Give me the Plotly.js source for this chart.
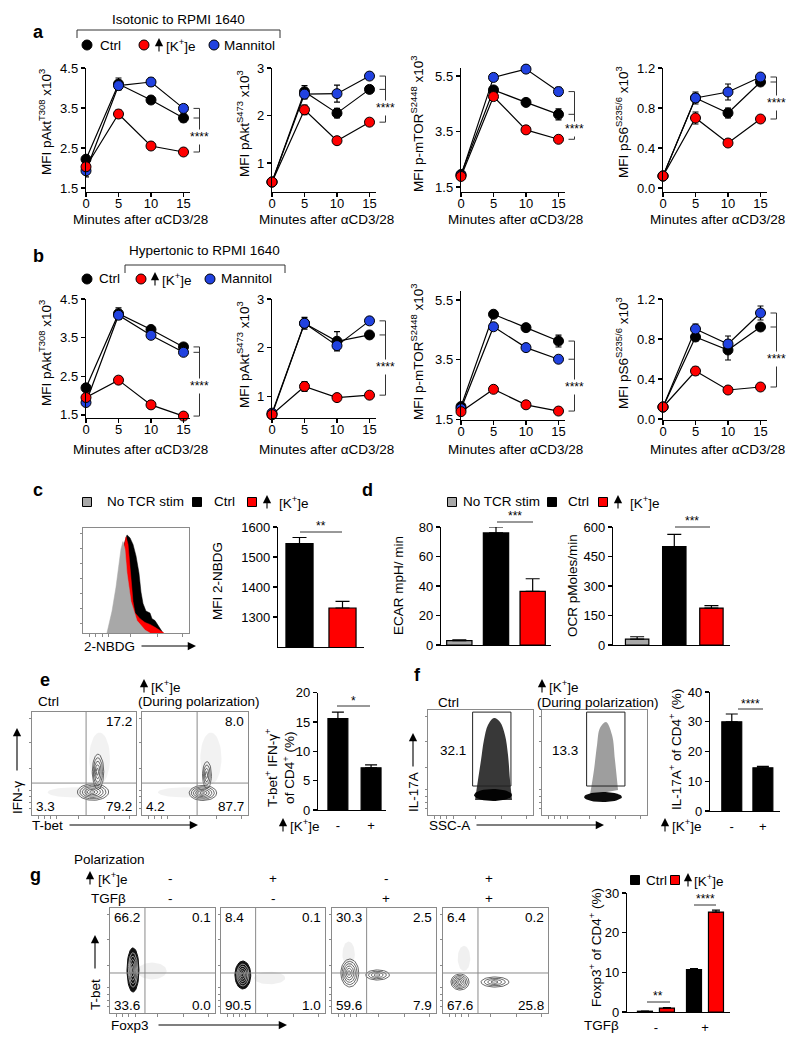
<!DOCTYPE html>
<html><head><meta charset="utf-8">
<script src="https://cdn.plot.ly/plotly-3.0.1.min.js"></script>
<style>html,body{margin:0;padding:0;background:#fff}#chart{width:800px;height:1048px}</style>
</head><body><div id="chart"></div>
<script>
// ================= DATA =================
const minutes = [0, 5, 10, 15];

// a – isotonic to RPMI 1640
const aT308Ctrl = [2.22, 4.10, 3.70, 3.25], aT308CtrlErr = [0.10, 0.15, 0.05, 0.10];
const aT308K    = [2.03, 3.35, 2.55, 2.40], aT308KErr    = [0.05, 0.10, 0.05, 0.05];
const aT308Man  = [1.93, 4.06, 4.15, 3.49], aT308ManErr  = [0.15, 0.10, 0.10, 0.05];
const aS473Ctrl = [0.60, 2.50, 2.05, 2.55], aS473CtrlErr = [0.03, 0.13, 0.10, 0.04];
const aS473K    = [0.60, 2.12, 1.47, 1.86], aS473KErr    = [0.02, 0.10, 0.03, 0.03];
const aS473Man  = [0.60, 2.45, 2.46, 2.83], aS473ManErr  = [0.02, 0.10, 0.18, 0.04];
const aMtorCtrl = [1.95, 5.00, 4.55, 4.12], aMtorCtrlErr = [0.05, 0.06, 0.05, 0.20];
const aMtorK    = [1.88, 4.76, 3.56, 3.22], aMtorKErr    = [0.05, 0.06, 0.05, 0.10];
const aMtorMan  = [1.92, 5.45, 5.75, 4.94], aMtorManErr  = [0.05, 0.12, 0.05, 0.15];
const aS6Ctrl   = [0.12, 0.90, 0.75, 1.06], aS6CtrlErr   = [0.01, 0.06, 0.05, 0.03];
const aS6K      = [0.12, 0.70, 0.45, 0.69], aS6KErr      = [0.01, 0.06, 0.02, 0.02];
const aS6Man    = [0.12, 0.90, 0.96, 1.11], aS6ManErr    = [0.01, 0.04, 0.08, 0.02];

// b – hypertonic to RPMI 1640
const bT308Ctrl = [2.20, 4.12, 3.71, 3.26], bT308CtrlErr = [0.10, 0.15, 0.05, 0.07];
const bT308K    = [1.95, 2.40, 1.76, 1.47], bT308KErr    = [0.05, 0.04, 0.03, 0.03];
const bT308Man  = [1.82, 4.08, 3.56, 3.12], bT308ManErr  = [0.08, 0.10, 0.05, 0.05];
const bS473Ctrl = [0.62, 2.50, 2.13, 2.26], bS473CtrlErr = [0.05, 0.12, 0.20, 0.04];
const bS473K    = [0.62, 1.20, 0.97, 1.02], bS473KErr    = [0.02, 0.10, 0.03, 0.03];
const bS473Man  = [0.65, 2.50, 2.04, 2.55], bS473ManErr  = [0.03, 0.08, 0.08, 0.03];
const bMtorCtrl = [1.92, 5.02, 4.57, 4.12], bMtorCtrlErr = [0.05, 0.05, 0.05, 0.20];
const bMtorK    = [1.75, 2.50, 1.98, 1.77], bMtorKErr    = [0.03, 0.05, 0.03, 0.03];
const bMtorMan  = [1.85, 4.60, 3.90, 3.51], bMtorManErr  = [0.03, 0.05, 0.05, 0.05];
const bS6Ctrl   = [0.12, 0.82, 0.69, 0.92], bS6CtrlErr   = [0.01, 0.04, 0.10, 0.02];
const bS6K      = [0.12, 0.48, 0.29, 0.32], bS6KErr      = [0.01, 0.04, 0.02, 0.02];
const bS6Man    = [0.12, 0.90, 0.75, 1.06], bS6ManErr    = [0.01, 0.05, 0.08, 0.07];

// c – 2-NBDG histogram (fluorescence, % of max) and MFI bars
const histNoStimX = [22.6, 27.4, 31.1, 34.0, 35.8, 37.7, 39.6, 41.5, 45.3, 50.9, 58.5, 63.2];
const histNoStimY = [0, 21.9, 45.7, 69.5, 83.8, 91.4, 83.8, 60, 31.4, 12.4, 2.9, 0];
const histKX = [25.5, 31.1, 34.9, 38.7, 40.6, 42.5, 44.3, 46.2, 47.2, 49.1, 53.8, 58.5, 63.2, 67.9, 72.6, 76.4];
const histKY = [0, 31.4, 64.8, 88.6, 96.2, 88.6, 69.5, 45.7, 31.4, 20, 14.3, 10.5, 8.6, 5.7, 2.9, 0];
const histCtrlX = [25.5, 31.1, 34.9, 38.7, 41.5, 44.3, 47.2, 50.0, 52.8, 54.7, 56.6, 59.4, 63.2, 65.1, 67.9, 70.8, 73.6, 75.5];
const histCtrlY = [0, 31.4, 64.8, 88.6, 98.1, 95.2, 88.6, 77.1, 60, 41, 29.5, 21.9, 20, 14.3, 12.4, 7.6, 2.9, 0];
const cCats = ['Ctrl', '[K+]e'];
const cVals = [1545, 1330], cErr = [20, 22];

// d – ECAR / OCR
const dCats = ['No TCR stim', 'Ctrl', '[K+]e'];
const ecarVals = [3, 76, 36.4], ecarErr = [0.5, 4, 8.5];
const ocrVals = [30, 500, 188], ocrErr = [12, 62, 12];

// e – Th1 polarization
const eCtrlPct = [17.2, 3.3, 79.2];   // upper-right, lower-left, lower-right
const eKPct    = [8.0, 4.2, 87.7];
const eBarCats = ['-', '+'];
const eBarVals = [15.6, 7.2], eBarErr = [1.1, 0.5];

// f – Th17 polarization
const fGatePct = [32.1, 13.3];
const fBarCats = ['-', '+'];
const fBarVals = [30.0, 14.5], fBarErr = [2.6, 0.5];

// g – Treg polarization
const gKLabels   = ['-', '+', '-', '+'];
const gTgfLabels = ['-', '-', '+', '+'];
const gUL = [66.2, 8.4, 30.3, 6.4], gUR = [0.1, 0.1, 2.5, 0.2];
const gLL = [33.6, 90.5, 59.6, 67.6], gLR = [0.0, 1.0, 7.9, 25.8];
const gBarCats = ['-', '+'];
const gCtrlVals = [0.2, 10.7], gCtrlErr = [0.05, 0.25];
const gKVals = [1.0, 25.2], gKErr = [0.1, 0.5];

// ================= HELPERS =================
const W = 800, H = 1048;
const F = 'Liberation Sans, Arial, Helvetica, sans-serif';
const px = x => x / W, py = y => 1 - y / H;
const RED = '#ff0000', BLUE = '#2142e0', GRAY = '#a8a8a8';
const data = [];
const layout = {
  width: W, height: H, margin: {l: 0, r: 0, t: 0, b: 0},
  paper_bgcolor: '#fff', plot_bgcolor: 'rgba(0,0,0,0)', showlegend: false,
  font: {family: F, size: 13, color: '#000'}, annotations: [], shapes: [], barmode: 'overlay'
};
let nAx = 0;
function axes(xl, xr, yt, yb, xo, yo) {
  nAx++;
  const s = nAx === 1 ? '' : String(nAx);
  const base = {showgrid: false, zeroline: false, showline: true, linecolor: '#000', linewidth: 1.2,
    ticks: 'outside', ticklen: 4, tickwidth: 1.2, tickcolor: '#000',
    tickfont: {family: F, size: 13, color: '#000'}, fixedrange: true};
  layout['xaxis' + s] = Object.assign({}, base, {domain: [xl / W, xr / W], anchor: 'y' + s}, xo);
  layout['yaxis' + s] = Object.assign({}, base, {domain: [1 - yb / H, 1 - yt / H], anchor: 'x' + s}, yo);
  return {x: 'x' + s, y: 'y' + s, xl, xr, yt, yb};
}
function T(x, y, t, o = {}) {
  layout.annotations.push({xref: 'paper', yref: 'paper', x: px(x), y: py(y), text: t, showarrow: false,
    xanchor: o.xa || 'center', yanchor: o.ya || 'middle', textangle: o.ang || 0,
    font: {family: F, size: o.size || 13.5, color: '#000'}, bgcolor: o.bg || 'rgba(0,0,0,0)', borderpad: 0});
}
function AR(x0, y0, x1, y1, w = 1.2, hs = 1.4) {
  layout.annotations.push({xref: 'paper', yref: 'paper', x: px(x1), y: py(y1), ax: x0 - x1, ay: y0 - y1,
    axref: 'pixel', ayref: 'pixel', text: '', showarrow: true, arrowhead: 2, arrowsize: hs,
    arrowwidth: w, arrowcolor: '#000', standoff: 0});
}
function upArrow(x, y) { AR(x, y + 8, x, y - 7, 1.1, 1.5); }
function L(x0, y0, x1, y1, w = 1, c = '#000') {
  layout.shapes.push({type: 'line', xref: 'paper', yref: 'paper', x0: px(x0), y0: py(y0), x1: px(x1), y1: py(y1), line: {color: c, width: w}});
}
function circ(cx, cy, r, fill) {
  layout.shapes.push({type: 'circle', xref: 'paper', yref: 'paper', x0: px(cx - r), x1: px(cx + r), y0: py(cy + r), y1: py(cy - r), fillcolor: fill, line: {color: '#000', width: 1}});
}
function sq(cx, cy, r, fill) {
  layout.shapes.push({type: 'rect', xref: 'paper', yref: 'paper', x0: px(cx - r), x1: px(cx + r), y0: py(cy + r), y1: py(cy - r), fillcolor: fill, line: {color: '#000', width: 1}});
}
const KE = '[K<sup>+</sup>]e';

// ================= LINE PLOTS (a, b) =================
const lineSpecs = [
  {xl: 86,  yt: 68, yb: 192, yr: [1.4, 4.5],   tv: [1.5, 2.5, 3.5, 4.5], tt: null, title: 'MFI pAkt<sup>T308</sup> x10<sup>3</sup>', tx: 45, ty: 122,
   s: [[aT308Ctrl, aT308CtrlErr], [aT308K, aT308KErr], [aT308Man, aT308ManErr]], xt: 219},
  {xl: 272, yt: 68, yb: 192, yr: [0.39, 3.0],  tv: [1, 2, 3], tt: null, title: 'MFI pAkt<sup>S473</sup> x10<sup>3</sup>', tx: 243, ty: 124,
   s: [[aS473Ctrl, aS473CtrlErr], [aS473K, aS473KErr], [aS473Man, aS473ManErr]], xt: 219},
  {xl: 461, yt: 68, yb: 192, yr: [1.32, 5.79], tv: [1.5, 3.5, 5.5], tt: null, title: 'MFI p-mTOR<sup>S2448</sup> x10<sup>3</sup>', tx: 417, ty: 124,
   s: [[aMtorCtrl, aMtorCtrlErr], [aMtorK, aMtorKErr], [aMtorMan, aMtorManErr]], xt: 219},
  {xl: 663, yt: 68, yb: 192, yr: [-0.04, 1.2], tv: [0, 0.4, 0.8, 1.2], tt: ['0.0', '0.4', '0.8', '1.2'], title: 'MFI pS6<sup>S235/6</sup> x10<sup>3</sup>', tx: 622, ty: 122,
   s: [[aS6Ctrl, aS6CtrlErr], [aS6K, aS6KErr], [aS6Man, aS6ManErr]], xt: 219},
  {xl: 86,  yt: 299, yb: 418, yr: [1.42, 4.5], tv: [1.5, 2.5, 3.5, 4.5], tt: null, title: 'MFI pAkt<sup>T308</sup> x10<sup>3</sup>', tx: 45, ty: 353,
   s: [[bT308Ctrl, bT308CtrlErr], [bT308K, bT308KErr], [bT308Man, bT308ManErr]], xt: 449},
  {xl: 272, yt: 299, yb: 418, yr: [0.55, 3.0], tv: [1, 2, 3], tt: null, title: 'MFI pAkt<sup>S473</sup> x10<sup>3</sup>', tx: 243, ty: 355,
   s: [[bS473Ctrl, bS473CtrlErr], [bS473K, bS473KErr], [bS473Man, bS473ManErr]], xt: 449},
  {xl: 461, yt: 291, yb: 420, yr: [1.47, 5.8], tv: [1.5, 3.5, 5.5], tt: null, title: 'MFI p-mTOR<sup>S2448</sup> x10<sup>3</sup>', tx: 417, ty: 352,
   s: [[bMtorCtrl, bMtorCtrlErr], [bMtorK, bMtorKErr], [bMtorMan, bMtorManErr]], xt: 449},
  {xl: 663, yt: 299, yb: 420, yr: [-0.01, 1.2], tv: [0, 0.4, 0.8, 1.2], tt: ['0.0', '0.4', '0.8', '1.2'], title: 'MFI pS6<sup>S235/6</sup> x10<sup>3</sup>', tx: 622, ty: 353,
   s: [[bS6Ctrl, bS6CtrlErr], [bS6K, bS6KErr], [bS6Man, bS6ManErr]], xt: 449}
];
const seriesColors = ['#000000', RED, BLUE];
lineSpecs.forEach(sp => {
  const span = 97.5, xr = sp.xl + 104;
  const ax = axes(sp.xl, xr, sp.yt, sp.yb,
    {range: [0, 15 * 104 / span], tickvals: minutes, ticklabelstandoff: -5},
    {range: sp.yr, tickvals: sp.tv, ticktext: sp.tt || undefined});
  [0, 2, 1].forEach(i => {
    data.push({type: 'scatter', mode: 'lines+markers', x: minutes, y: sp.s[i][0], xaxis: ax.x, yaxis: ax.y, cliponaxis: false,
      line: {color: '#000', width: 1.2}, marker: {size: 10, color: seriesColors[i], line: {color: '#000', width: 1}},
      error_y: {type: 'data', array: sp.s[i][1], visible: true, color: '#000', thickness: 1.2, width: 3}});
  });
  T(sp.tx, sp.ty, sp.title, {ang: -90});
  T((sp.xl + sp.xl + span) / 2 + 6, sp.xt, 'Minutes after αCD3/28');
  // significance bracket
  const yp = v => sp.yt + (sp.yr[1] - v) / (sp.yr[1] - sp.yr[0]) * (sp.yb - sp.yt);
  const c = sp.s[0][0][3], k = sp.s[1][0][3], m = sp.s[2][0][3];
  const top = yp(Math.max(c, m)), mid = yp(Math.min(c, m)), bot = yp(k);
  const bx = sp.xl + span + 16;
  L(bx, top, bx, bot, 1, '#333'); L(bx - 6, top, bx, top, 1, '#333');
  L(bx - 6, mid, bx, mid, 1, '#333'); L(bx - 6, bot, bx, bot, 1, '#333');
  T(bx, (mid + bot) / 2 + 2, '****', {size: 12, bg: '#fff'});
});

// headers a / b
T(38, 32, '<b>a</b>', {size: 18});
T(178, 20, 'Isotonic to RPMI 1640');
L(77, 38, 77, 30, 1, '#333'); L(77, 30, 280, 30, 1, '#333'); L(280, 30, 280, 38, 1, '#333');
circ(87, 45, 5, '#000'); T(99, 45, 'Ctrl', {xa: 'left'});
circ(144, 45, 5, RED); upArrow(159, 45); T(165, 45, KE, {xa: 'left'});
circ(214, 45, 5, BLUE); T(223, 45, 'Mannitol', {xa: 'left'});

T(38, 256, '<b>b</b>', {size: 18});
T(205, 250, 'Hypertonic to RPMI 1640');
L(125, 273, 125, 265, 1, '#333'); L(125, 265, 285, 265, 1, '#333'); L(285, 265, 285, 273, 1, '#333');
circ(87, 279, 5, '#000'); T(98, 279, 'Ctrl', {xa: 'left'});
circ(141, 279, 5, RED); upArrow(155, 279); T(161, 279, KE, {xa: 'left'});
circ(210, 279, 5, BLUE); T(220, 279, 'Mannitol', {xa: 'left'});

// ================= PANEL c =================
T(38, 490, '<b>c</b>', {size: 18});
sq(87, 502, 4.5, GRAY); T(106, 502, 'No TCR stim', {xa: 'left'});
sq(197, 502, 4.5, '#000'); T(213, 502, 'Ctrl', {xa: 'left'});
sq(252, 502, 4.5, RED); upArrow(267, 502); T(278, 502, KE, {xa: 'left'});

const flowAxStyle = {range: [0, 100], mirror: true, linecolor: '#8a8a8a', linewidth: 1, ticks: 'outside', ticklen: 2.5,
  tickwidth: 1, tickcolor: '#8a8a8a', tickvals: [6, 12, 18, 24, 45, 70, 94], showticklabels: false};
const hAx = axes(83, 189, 528, 633, Object.assign({}, flowAxStyle), Object.assign({}, flowAxStyle, {range: [0, 105], tickvals: [10, 25, 40, 55, 70, 85, 100]}));
[[histCtrlX, histCtrlY, '#000'], [histKX, histKY, RED], [histNoStimX, histNoStimY, GRAY]].forEach(([x, y, c]) => {
  data.push({type: 'scatter', mode: 'lines', x, y, xaxis: hAx.x, yaxis: hAx.y, fill: 'toself', fillcolor: c, line: {color: c, width: 0.5}});
});
T(83, 646, '2-NBDG', {xa: 'left'});
AR(140, 646, 196, 646, 1.1, 1.5);

const cAx = axes(278, 364, 527, 647, {type: 'category', range: [-0.5, 1.5], showticklabels: false, ticks: ''},
  {range: [1200, 1600], tickvals: [1300, 1400, 1500, 1600]});
data.push({type: 'bar', x: cCats, y: cVals, base: 0, xaxis: cAx.x, yaxis: cAx.y, width: 0.63,
  marker: {color: ['#000', RED], line: {color: '#000', width: 1.2}},
  error_y: {type: 'data', symmetric: false, array: cErr, arrayminus: [0, 0], color: '#000', thickness: 1.2, width: 7}});
T(217, 581, 'MFI 2-NBDG', {ang: -90});
L(300, 532, 342, 532, 1, '#333'); T(321, 526, '**', {size: 12});

// ================= PANEL d =================
T(367, 490, '<b>d</b>', {size: 18});
sq(452, 502, 4.5, GRAY); T(462, 502, 'No TCR stim', {xa: 'left'});
sq(552, 502, 4.5, '#000'); T(567, 502, 'Ctrl', {xa: 'left'});
sq(603, 502, 4.5, RED); upArrow(618, 502); T(629, 502, KE, {xa: 'left'});

const ecarAx = axes(441, 551, 527, 645, {type: 'category', range: [-0.5, 2.5], showticklabels: false, ticks: ''},
  {range: [0, 80], tickvals: [0, 20, 40, 60, 80]});
data.push({type: 'bar', x: dCats, y: ecarVals, xaxis: ecarAx.x, yaxis: ecarAx.y, width: 0.69,
  marker: {color: [GRAY, '#000', RED], line: {color: '#000', width: 1.2}},
  error_y: {type: 'data', symmetric: false, array: ecarErr, arrayminus: [0, 0, 0], color: '#000', thickness: 1.2, width: 7}});
T(398, 586, 'ECAR mpH/ min', {ang: -90});
L(497, 522, 533, 522, 1, '#333'); T(515, 516, '***', {size: 12});

const ocrAx = axes(613, 730, 527, 645, {type: 'category', range: [-0.65, 2.5], showticklabels: false, ticks: ''},
  {range: [0, 600], tickvals: [0, 150, 300, 450, 600]});
data.push({type: 'bar', x: dCats, y: ocrVals, xaxis: ocrAx.x, yaxis: ocrAx.y, width: 0.63,
  marker: {color: [GRAY, '#000', RED], line: {color: '#000', width: 1.2}},
  error_y: {type: 'data', symmetric: false, array: ocrErr, arrayminus: [0, 0, 0], color: '#000', thickness: 1.2, width: 7}});
T(572, 586, 'OCR pMoles/min', {ang: -90});
L(675, 527, 710, 527, 1, '#333'); T(692, 521, '***', {size: 12});

// ================= FLOW HELPERS =================
function ellipse(cx, cy, rx, ry, s) {
  const xs = [], ys = [];
  for (let i = 0; i <= 48; i++) { const t = i / 48 * 2 * Math.PI; xs.push(cx + rx * s * Math.cos(t)); ys.push(cy + ry * s * Math.sin(t)); }
  return [xs, ys];
}
function blob(ax, b) {
  const [cx, cy, rx, ry, n, dense] = b;
  if (dense) {
    const [x, y] = ellipse(cx, cy, rx, ry, 1);
    data.push({type: 'scatter', mode: 'lines', x, y, xaxis: ax.x, yaxis: ax.y, fill: 'toself', fillcolor: '#111', line: {color: '#111', width: 1}});
  }
  for (let k = 1; k <= n; k++) {
    const [x, y] = ellipse(cx + (k - n) * 0.15, cy, rx, ry, dense ? k / (n + 1.4) : k / n);
    data.push({type: 'scatter', mode: 'lines', x, y, xaxis: ax.x, yaxis: ax.y, line: {color: dense ? '#bbb' : '#444', width: 0.8}});
  }
}
function faint(ax, b, op) {
  const [x, y] = ellipse(b[0], b[1], b[2], b[3], 1);
  data.push({type: 'scatter', mode: 'lines', x, y, xaxis: ax.x, yaxis: ax.y, fill: 'toself', fillcolor: `rgba(0,0,0,${op})`, line: {width: 0}});
}
function flowAxes(xl, xr, yt, yb) {
  return axes(xl, xr, yt, yb, Object.assign({}, flowAxStyle), Object.assign({}, flowAxStyle));
}
function quad(ax, qx, qy) {
  layout.shapes.push({type: 'line', xref: ax.x, yref: ax.y, x0: qx, x1: qx, y0: 0, y1: 100, line: {color: '#8a8a8a', width: 1}});
  layout.shapes.push({type: 'line', xref: ax.x, yref: ax.y, x0: 0, x1: 100, y0: qy, y1: qy, line: {color: '#8a8a8a', width: 1}});
}
const f1 = v => v.toFixed(1);

// ================= PANEL e =================
T(45, 680, '<b>e</b>', {size: 18});
T(48, 701, 'Ctrl');
upArrow(144, 686); T(150, 686, KE, {xa: 'left'});
T(199, 701, '(During polarization)');
const eBlobsCtrl = [[58.7, 22.3, 15, 8, 6, false], [63.5, 42, 5.5, 17, 5, false]];
const eBlobsK = [[57.5, 21.4, 13, 7.3, 6, false], [61.3, 38.8, 4.2, 13, 4, false]];
const eBoxes = [[32, 136, eCtrlPct, eBlobsCtrl], [142, 248, eKPct, eBlobsK]];
eBoxes.forEach(([xl, xr, pct, blobs]) => {
  const ax = flowAxes(xl, xr, 712, 815);
  faint(ax, [40, 22, 25, 5], 0.05);
  faint(ax, [65, 55, 10, 25], 0.05);
  blobs.forEach(b => blob(ax, b));
  quad(ax, 52, 31);
  T(xr - 3, 721, f1(pct[0]), {xa: 'right'});
  T(xl + 3, 806, f1(pct[1]), {xa: 'left'});
  T(xr - 3, 806, f1(pct[2]), {xa: 'right'});
});
T(17, 798, 'IFN-γ', {ang: -90});
AR(17, 772, 17, 728, 1.1, 1.5);
T(31, 825, 'T-bet', {xa: 'left'});
AR(68, 825, 198, 825, 1.1, 1.5);

const eAx = axes(318, 386, 692.7, 810, {type: 'category', range: [-0.6, 1.45], ticks: 'outside', tickcolor: 'rgba(0,0,0,0)', ticklen: 3},
  {range: [0, 20], tickvals: [0, 5, 10, 15, 20]});
data.push({type: 'bar', x: eBarCats, y: eBarVals, xaxis: eAx.x, yaxis: eAx.y, width: 0.6,
  marker: {color: '#000', line: {color: '#000', width: 1.2}},
  error_y: {type: 'data', symmetric: false, array: eBarErr, arrayminus: [0, 0], color: '#000', thickness: 1.2, width: 6}});
T(279, 768, 'T-bet<sup>+</sup> IFN-γ<sup>+</sup><br>of CD4<sup>+</sup> (%)', {ang: -90});
L(337, 706, 370, 706, 1, '#333'); T(353, 701, '*', {size: 12});
upArrow(283, 825); T(289, 825, KE, {xa: 'left'});

// ================= PANEL f =================
T(417, 675, '<b>f</b>', {size: 18});
T(448, 702, 'Ctrl');
upArrow(542, 686); T(548, 686, KE, {xa: 'left'});
T(598, 702, '(During polarization)');
const fCloudCtrlX = [44.8, 47.6, 50.5, 53.3, 57.1, 62.9, 68.6, 73.3, 76.2, 78.1, 80.0];
const fCloudCtrlY = [14.3, 33.3, 52.4, 71.4, 85.7, 92.4, 88.6, 76.2, 57.1, 33.3, 14.3];
const fCloudKX = [45.7, 49.5, 52.4, 55.2, 61.0, 66.7, 69.5, 72.4];
const fCloudKY = [19.0, 42.9, 66.7, 82.9, 88.6, 76.2, 52.4, 23.8];
const fBoxes = [[428, 533, fGatePct[0], fCloudCtrlX, fCloudCtrlY, 0.78, [61.9, 19, 18.1, 5.7], 453],
                [542, 647, fGatePct[1], fCloudKX, fCloudKY, 0.38, [58.1, 17.1, 18, 4.8], 565]];
fBoxes.forEach(([xl, xr, pct, cx, cy, op, base, tx]) => {
  const ax = flowAxes(xl, xr, 710, 815);
  data.push({type: 'scatter', mode: 'lines', x: cx, y: cy, xaxis: ax.x, yaxis: ax.y, fill: 'toself', fillcolor: `rgba(0,0,0,${op})`, line: {width: 0, shape: 'spline'}});
  faint(ax, base, 0.95);
  layout.shapes.push({type: 'rect', xref: ax.x, yref: ax.y, x0: 42.5, x1: 79, y0: 27.6, y1: 98, line: {color: '#222', width: 1}});
  T(tx, 750, f1(pct));
});
T(413, 792, 'IL-17A', {ang: -90});
AR(413, 768, 413, 733, 1.1, 1.5);
T(428, 825, 'SSC-A', {xa: 'left'});
AR(475, 825, 604, 825, 1.1, 1.5);

const fAx = axes(710, 780, 692, 811, {type: 'category', range: [-0.7, 1.55], ticks: 'outside', tickcolor: 'rgba(0,0,0,0)', ticklen: 3},
  {range: [0, 40], tickvals: [0, 10, 20, 30, 40]});
data.push({type: 'bar', x: fBarCats, y: fBarVals, xaxis: fAx.x, yaxis: fAx.y, width: 0.64,
  marker: {color: '#000', line: {color: '#000', width: 1.2}},
  error_y: {type: 'data', symmetric: false, array: fBarErr, arrayminus: [0, 0], color: '#000', thickness: 1.2, width: 6}});
T(675, 750, 'IL-17A<sup>+</sup> of CD4<sup>+</sup> (%)', {ang: -90});
L(738, 709, 763, 709, 1, '#333'); T(750, 704, '****', {size: 12});
upArrow(665, 825); T(671, 825, KE, {xa: 'left'});

// ================= PANEL g =================
T(73, 859, 'Polarization', {xa: 'left'});
T(35, 875, '<b>g</b>', {size: 18});
upArrow(90, 878); T(97, 878, KE, {xa: 'left'});
T(90, 898, 'TGFβ', {xa: 'left'});
const gBlobs = [
  [[21.9, 41, 5.7, 21, 5, true]],
  [[21, 36.2, 7.6, 13.3, 5, true]],
  [[17.1, 38.1, 8.6, 13.3, 6, false], [43.8, 36.2, 11.4, 4.8, 4, false]],
  [[16.2, 29.5, 8.6, 7.6, 6, false], [49.5, 29.5, 13.3, 4.8, 4, false]]
];
const gFaint = [[[40, 40, 14, 8]], [[46.7, 33.3, 15, 6]], [[16, 56, 6, 12]], [[20, 52, 6, 12]]];
const gBoxX = [[110, 215], [221, 325], [332, 436], [443, 548]];
const gSignX = [170, 273, 386, 489];
gBoxX.forEach(([xl, xr], i) => {
  const ax = flowAxes(xl, xr, 908, 1013);
  gFaint[i].forEach(b => faint(ax, b, 0.06));
  gBlobs[i].forEach(b => blob(ax, b));
  quad(ax, 33.3, 38.1);
  T(xl + 3, 917, f1(gUL[i]), {xa: 'left'});
  T(xr - 3, 917, f1(gUR[i]), {xa: 'right'});
  T(xl + 3, 1005, f1(gLL[i]), {xa: 'left'});
  T(xr - 3, 1005, f1(gLR[i]), {xa: 'right'});
  T(gSignX[i], 878, gKLabels[i]);
  T(gSignX[i], 898, gTgfLabels[i]);
});
T(95, 995, 'T-bet', {ang: -90});
AR(95, 970, 95, 935, 1.1, 1.5);
T(110, 1025, 'Foxp3', {xa: 'left'});
AR(157, 1025, 287, 1025, 1.1, 1.5);

sq(635, 880, 4.5, '#000'); T(645, 880, 'Ctrl', {xa: 'left'});
sq(675, 880, 4.5, RED); upArrow(688, 880); T(693, 880, KE, {xa: 'left'});
const gAx = axes(627, 730, 893, 1012, {type: 'category', range: [-0.59, 1.51], ticks: 'outside', tickcolor: 'rgba(0,0,0,0)', ticklen: 3},
  {range: [0, 30], tickvals: [0, 10, 20, 30]});
data.push({type: 'bar', x: gBarCats, y: gCtrlVals, xaxis: gAx.x, yaxis: gAx.y, width: 0.306, offset: -0.377,
  marker: {color: '#000', line: {color: '#000', width: 1.2}},
  error_y: {type: 'data', symmetric: false, array: gCtrlErr, arrayminus: [0, 0], color: '#000', thickness: 1.2, width: 4}});
data.push({type: 'bar', x: gBarCats, y: gKVals, xaxis: gAx.x, yaxis: gAx.y, width: 0.306, offset: 0.071,
  marker: {color: RED, line: {color: '#000', width: 1.2}},
  error_y: {type: 'data', symmetric: false, array: gKErr, arrayminus: [0, 0], color: '#000', thickness: 1.2, width: 4}});
T(595, 948, 'Foxp3<sup>+</sup> of CD4<sup>+</sup> (%)', {ang: -90});
L(647, 1002, 670, 1002, 1, '#333'); T(658, 996, '**', {size: 12});
L(694, 905, 716, 905, 1, '#333'); T(705, 899, '****', {size: 12});
T(583, 1025, 'TGFβ', {xa: 'left'});

Plotly.newPlot('chart', data, layout, {staticPlot: true, displayModeBar: false});
</script>
</body></html>
